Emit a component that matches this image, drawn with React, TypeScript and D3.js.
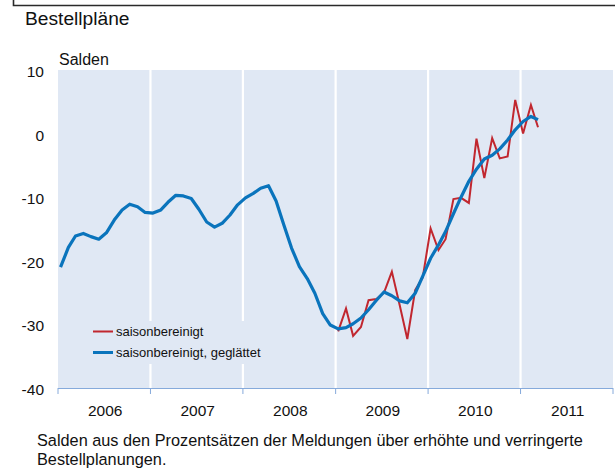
import React from "react";
import * as d3 from "d3";

const years = ["2006", "2007", "2008", "2009", "2010", "2011"];
const yTicks = [10, 0, -10, -20, -30, -40];

// saisonbereinigt, geglättet: Jan 2006 .. Mar 2011 (monthly)
const smoothed = [
  -21.0, -17.9, -16.1, -15.7, -16.2, -16.6, -15.6, -13.6, -12.0, -11.1, -11.5, -12.4,
  -12.5, -12.0, -10.8, -9.7, -9.8, -10.2, -11.9, -13.9, -14.7, -14.1, -12.8, -11.2,
  -10.1, -9.4, -8.6, -8.2, -10.6, -14.4, -18.0, -20.9, -22.8, -25.1, -28.3, -30.1,
  -30.7, -30.5, -29.9, -29.0, -27.7, -26.2, -24.9, -25.5, -26.3, -26.6, -25.1, -22.4,
  -19.6, -17.5, -15.4, -12.6, -10.0, -7.5, -5.6, -4.0, -3.4, -2.4, -1.0, 0.6,
  1.9, 2.7, 2.2,
];
const smoothedStart = [2006, 0];

// saisonbereinigt: Jan 2009 .. Mar 2011 (monthly)
const adjusted = [
  -31.1, -27.5, -31.8, -30.4, -26.2, -26.0, -25.0, -21.7, -27.0, -32.3, -24.6, -22.6,
  -14.9, -18.3, -16.6, -10.3, -10.1, -10.9, -0.8, -7.0, -0.7, -3.9, -3.6, 5.3,
  0.0, 4.5, 1.0,
];
const adjustedStart = [2009, 0];

const legendLabels = ["saisonbereinigt", "saisonbereinigt, geglättet"];
const title = "Bestellpläne";
const unit = "Salden";
const footnote = [
  "Salden aus den Prozentsätzen der Meldungen über erhöhte und verringerte",
  "Bestellplanungen.",
];

const W = 615;
const H = 468;
const left = 58;
const right = 613;
const top = 70;
const bottom = 388;
const FONT = "'Liberation Sans', Arial, Helvetica, sans-serif";
const BG = "#e0e8f4";
const BLUE = "#0a74bc";
const RED = "#c1272f";
const AXIS = "#86aadb";

function toPoints(values: number[], start: number[]) {
  return values.map((v, i) => ({ date: new Date(start[0], start[1] + i, 11), v }));
}

export default function App() {
  const x = d3
    .scaleTime()
    .domain([new Date(2006, 0, 1), new Date(2012, 0, 1)])
    .range([left, right]);
  const y = d3.scaleLinear().domain([-40, 10]).range([bottom, top]);

  const line = d3
    .line<{ date: Date; v: number }>()
    .x((d) => x(d.date))
    .y((d) => y(d.v));

  const sPts = toPoints(smoothed, smoothedStart);
  const aPts = toPoints(adjusted, adjustedStart);

  const boundaries = d3.range(0, years.length + 1).map((i) => new Date(2006 + i, 0, 1));

  return (
    <svg
      width={W}
      height={H}
      style={{ position: "absolute", left: 0, top: 0, background: "#fff" }}
      fontFamily={FONT}
    >
      {/* frame remnant at top */}
      <path d={`M13.5,0 V5.5 H${W}`} fill="none" stroke="#2a2a2a" strokeWidth={1.6} />
      <text x={25} y={24.5} fontSize={19.2} fill="#111">
        {title}
      </text>
      <text x={59} y={65} fontSize={16} fill="#111">
        {unit}
      </text>

      {/* plot background */}
      <rect x={left} y={top} width={right - left} height={bottom - top} fill={BG} />
      {boundaries.slice(1, -1).map((d, i) => (
        <line key={i} x1={x(d)} x2={x(d)} y1={top} y2={bottom} stroke="#fff" strokeWidth={2.2} />
      ))}

      {/* y tick labels */}
      {yTicks.map((t) => (
        <text key={t} x={44} y={y(t) + 7} fontSize={15.5} textAnchor="end" fill="#111">
          {t}
        </text>
      ))}

      {/* x axis */}
      <line x1={left} x2={right} y1={bottom + 0.5} y2={bottom + 0.5} stroke={AXIS} strokeWidth={1} />
      {boundaries.map((d, i) => (
        <line key={i} x1={x(d)} x2={x(d)} y1={bottom} y2={bottom + 6} stroke={AXIS} strokeWidth={1} />
      ))}
      {years.map((yr, i) => {
        const cx = (x(boundaries[i]) + x(boundaries[i + 1])) / 2 + 1;
        return (
          <text key={yr} x={cx} y={416} fontSize={15.5} textAnchor="middle" fill="#111">
            {yr}
          </text>
        );
      })}

      {/* legend */}
      <rect x={88} y={321} width={194} height={43} fill={BG} />
      <line x1={93} x2={113} y1={331.5} y2={331.5} stroke={RED} strokeWidth={2} />
      <text x={116} y={336} fontSize={13} fill="#111">
        {legendLabels[0]}
      </text>
      <line x1={93} x2={113} y1={352.5} y2={352.5} stroke={BLUE} strokeWidth={3} />
      <text x={116} y={357} fontSize={13} fill="#111">
        {legendLabels[1]}
      </text>

      {/* series */}
      <path d={line(aPts) || ""} fill="none" stroke={RED} strokeWidth={2} strokeLinejoin="miter" />
      <path d={line(sPts) || ""} fill="none" stroke={BLUE} strokeWidth={3.2} strokeLinejoin="round" />

      {/* footnote */}
      {footnote.map((f, i) => (
        <text key={i} x={37} y={445.5 + i * 19} fontSize={16.3} fill="#111">
          {f}
        </text>
      ))}
    </svg>
  );
}
